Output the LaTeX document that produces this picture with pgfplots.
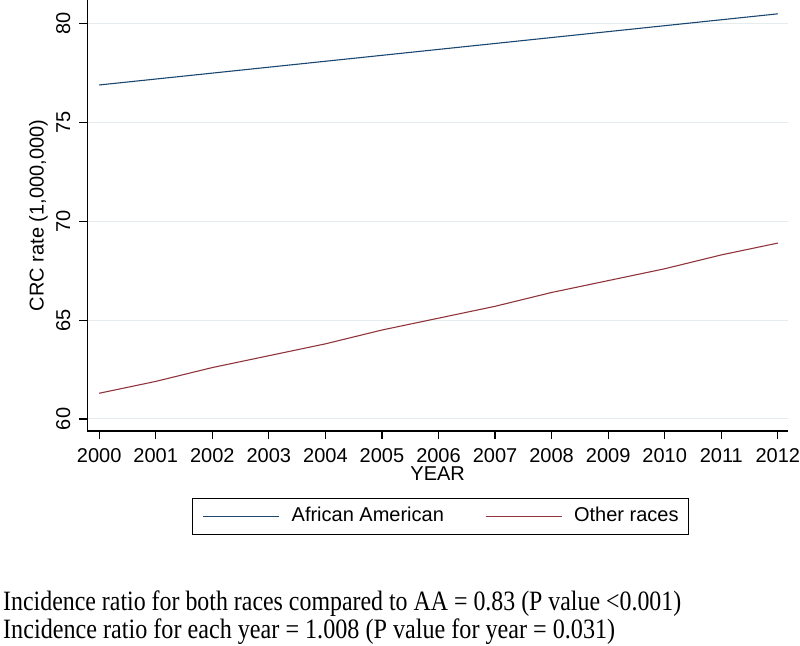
\documentclass[border=0pt]{standalone}
\usepackage{fontspec}
\setmainfont{Liberation Sans}
\newfontfamily\serifrm{Liberation Serif}
\usepackage{graphicx}
\usepackage{pgfplots}
\pgfplotsset{compat=1.18}
\definecolor{stnavy}{RGB}{26,71,111}
\definecolor{stmaroon}{RGB}{144,53,59}
\definecolor{stgrid}{RGB}{228,236,239}
\begin{document}
\begin{tikzpicture}
\path[use as bounding box] (0pt,0pt) rectangle (800pt,-645pt);
\begin{axis}[
  at={(87.3pt,-431pt)}, anchor=south west,
  scale only axis, width=700.7pt, height=431pt,
  xmin=1999.79, xmax=2012.18,
  ymin=59.39, ymax=81.2,
  axis x line*=bottom, axis y line*=left,
  axis line style={line width=1.2pt, black, -},
  xtick={2000,2001,...,2012},
  ytick={60,65,...,80},
  tick align=outside,
  major tick length=8pt,
  tick style={line width=1.2pt, black},
  ymajorgrids,
  grid style={stgrid, line width=1pt},
  /pgf/number format/assume math mode=true,
  xticklabel style={/pgf/number format/1000 sep={}, font=\fontsize{20}{24}\selectfont, yshift=-9pt, anchor=north, inner sep=0pt, text height=14pt, text depth=0pt},
  yticklabel style={font=\fontsize{20}{24}\selectfont, xshift=-9pt, rotate=90, anchor=south, inner sep=0pt, text height=14pt, text depth=0pt},
  xlabel={YEAR},
  ylabel={CRC rate (1,000,000)},
  label style={font=\fontsize{20}{24}\selectfont},
  xlabel style={at={(axis description cs:0.5,-0.0985)}, anchor=center, inner sep=0pt},
  ylabel style={at={(axis description cs:-0.0696,0.5)}, anchor=center, inner sep=0pt, rotate=0},
  legend columns=2,
  legend cell align=left,
  legend image code/.code={\draw[#1] (0pt,0pt) -- (76pt,0pt);},
  legend style={
    at={(axis description cs:0.1494,-0.1555)}, anchor=north west,
    draw=black, line width=1.2pt, inner xsep=10pt, inner ysep=9pt,
    font=\fontsize{20}{24}\selectfont,
    nodes={inner sep=0pt, text height=14pt, text depth=4pt},
    /tikz/every odd column/.append style={column sep=12pt},
    /tikz/every even column/.append style={column sep=41pt},
  },
]
\addplot[stnavy, line width=1.1pt] coordinates {
(2000,76.9) (2001,77.2) (2002,77.5) (2003,77.8) (2004,78.1) (2005,78.4) (2006,78.7)
(2007,79.0) (2008,79.3) (2009,79.6) (2010,79.9) (2011,80.2) (2012,80.5)};
\addlegendentry{African American}
\addplot[stmaroon, line width=1.1pt] coordinates {
(2000,61.3) (2001,61.9) (2002,62.6) (2003,63.2) (2004,63.8) (2005,64.5) (2006,65.1)
(2007,65.7) (2008,66.4) (2009,67.0) (2010,67.6) (2011,68.3) (2012,68.9)};
\addlegendentry{Other races}
\end{axis}
\node[anchor=base west, inner sep=0pt] at (3pt,-610pt) {\resizebox{678pt}{\height}{\serifrm\fontsize{28}{28}\selectfont Incidence ratio for both races compared to AA = 0.83 (P value <0.001)}};
\node[anchor=base west, inner sep=0pt] at (3pt,-638pt) {\resizebox{612pt}{\height}{\serifrm\fontsize{28}{28}\selectfont Incidence ratio for each year = 1.008 (P value for year = 0.031)}};
\end{tikzpicture}
\end{document}
